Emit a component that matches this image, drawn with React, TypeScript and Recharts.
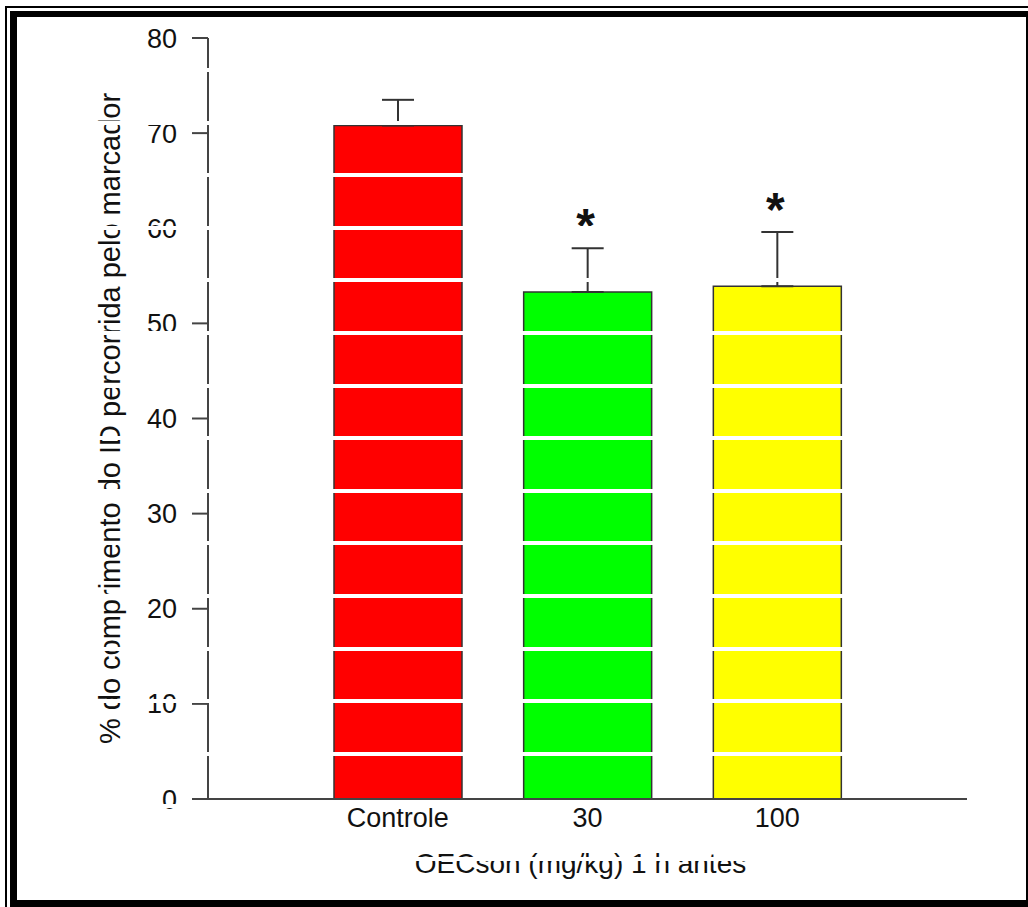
import { BarChart, Bar, XAxis, YAxis, Cell, ErrorBar, LabelList, Label } from "recharts";

// Dose groups with mean and SEM (% of ID length travelled by the marker)
const groups = ["Controle", "30", "100"];
const meanValues = [70.8, 53.3, 53.9];
const semValues = [2.7, 4.6, 5.7];
const significance = ["", "*", "*"];
const barColors = ["#ff0000", "#00ff00", "#ffff00"];
const yTicks = [0, 10, 20, 30, 40, 50, 60, 70, 80];

const data = groups.map((group, i) => ({
    group,
    mean: meanValues[i],
    sem: [0, semValues[i]],
    mark: significance[i],
}));

const FONT = "'Liberation Sans', Arial, sans-serif";

// scan lines that run across the printed figure
const stripeTops = Array.from({ length: 16 }, (_, k) => 68 + 52.6 * k);

const Asterisk = (props: any) => {
    const { x, y, width, height, value, index } = props;
    if (!value) return null;
    const pxPerUnit = height / meanValues[index];
    const errTop = y - pxPerUnit * semValues[index];
    return (
        <text
            x={x + width / 2 - 2}
            y={errTop - 6}
            textAnchor="middle"
            fontFamily={FONT}
            fontWeight="bold"
            fontSize={48}
            fill="#111"
        >
            {value}
        </text>
    );
};

const YTitle = (props: any) => {
    const { x, y, height } = props.viewBox;
    const cx = x + 2;
    const cy = y + height / 2;
    return (
        <text
            x={cx}
            y={cy}
            transform={`rotate(-90 ${cx} ${cy})`}
            textAnchor="middle"
            dominantBaseline="central"
            fontFamily={FONT}
            fontSize={29}
            fill="#111"
        >
            % do comprimento do ID percorrida pelo marcador
        </text>
    );
};

const XTitle = (props: any) => {
    const { x, y, width, height } = props.viewBox;
    return (
        <text
            x={x + width / 2 - 7}
            y={y + height + 44}
            textAnchor="middle"
            fontFamily={FONT}
            fontSize={28}
            fill="#111"
        >
            OECson (mg/kg) 1 h antes
        </text>
    );
};

const App = () => {
    return (
        <div
            style={{
                position: "absolute",
                left: 0,
                top: 0,
                width: 1028,
                height: 907,
                background: "#fff",
                overflow: "hidden",
            }}
        >
            <BarChart
                width={1028}
                height={907}
                data={data}
                margin={{ top: 38, right: 61, bottom: 78, left: 108 }}
            >
                <XAxis
                    dataKey="group"
                    padding={{ left: 95, right: 95 }}
                    tickLine={false}
                    axisLine={{ stroke: "#444", strokeWidth: 2 }}
                    tickMargin={3}
                    tick={{ fontSize: 27, fontFamily: FONT, fill: "#111" }}
                >
                    <Label content={<XTitle />} />
                </XAxis>
                <YAxis
                    width={100}
                    domain={[0, 80]}
                    ticks={yTicks}
                    tickSize={16}
                    tickMargin={15}
                    tickLine={{ stroke: "#444", strokeWidth: 2 }}
                    axisLine={{ stroke: "#444", strokeWidth: 2 }}
                    tick={{ fontSize: 27, fontFamily: FONT, fill: "#111" }}
                >
                    <Label content={<YTitle />} />
                </YAxis>
                <Bar
                    dataKey="mean"
                    barSize={128}
                    stroke="#333"
                    strokeWidth={1.5}
                    isAnimationActive={false}
                >
                    {data.map((d, i) => (
                        <Cell key={d.group} fill={barColors[i]} />
                    ))}
                    <ErrorBar
                        dataKey="sem"
                        direction="y"
                        width={16}
                        stroke="#333"
                        strokeWidth={2}
                        isAnimationActive={false}
                    />
                    <LabelList dataKey="mark" content={<Asterisk />} />
                </Bar>
            </BarChart>

            {stripeTops.map((top) => (
                <div
                    key={top}
                    style={{
                        position: "absolute",
                        left: 30,
                        width: 990,
                        top,
                        height: 4,
                        background: "#fff",
                    }}
                />
            ))}

            {/* double frame around the figure */}
            <div
                style={{
                    position: "absolute",
                    left: 5,
                    top: 6,
                    width: 1100,
                    height: 1000,
                    borderTop: "2px solid #000",
                    borderLeft: "2px solid #000",
                }}
            />
            <div
                style={{
                    position: "absolute",
                    left: 10,
                    top: 11,
                    width: 1018,
                    height: 896,
                    boxSizing: "border-box",
                    borderTop: "6px solid #000",
                    borderLeft: "7px solid #000",
                    borderRight: "2px solid #000",
                    borderBottom: "7px solid #000",
                }}
            />
        </div>
    );
};

export default App;
